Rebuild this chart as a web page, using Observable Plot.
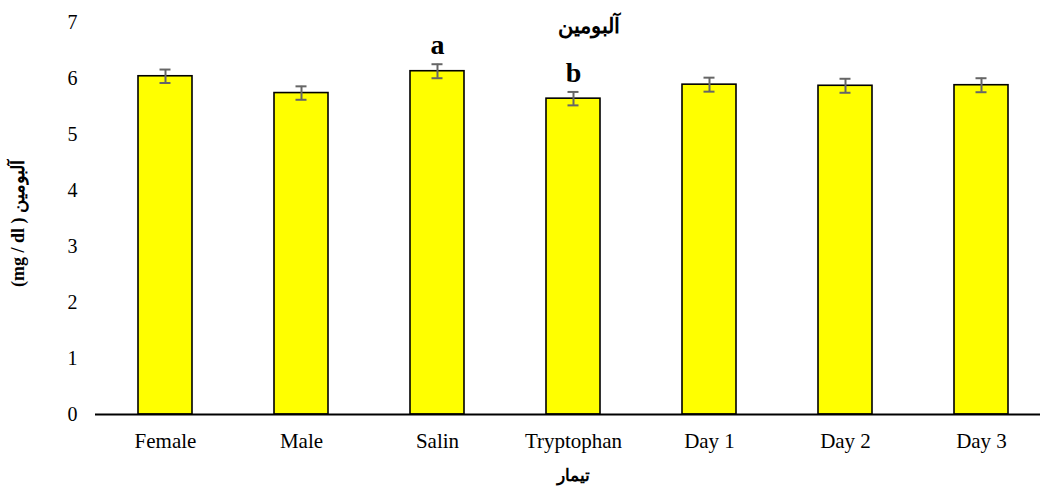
<!DOCTYPE html>
<html>
<head>
<meta charset="utf-8">
<script src="https://cdn.jsdelivr.net/npm/d3@7"></script>
<script src="https://cdn.jsdelivr.net/npm/@observablehq/plot@0.6"></script>
<style>
  html, body { margin: 0; padding: 0; background: #fff; overflow: hidden; }
  #chart { width: 1040px; height: 487px; overflow: hidden; }
  #chart svg { max-width: none !important; width: 1052px !important; height: 487px !important; }
  #chart svg text { font-family: 'Liberation Serif', 'Times New Roman', 'DejaVu Serif', serif; }
</style>
</head>
<body>
<div id="chart"></div>
<script>
const categories = ["Female", "Male", "Salin", "Tryptophan", "Day 1", "Day 2", "Day 3"];
const values = [6.04, 5.74, 6.13, 5.64, 5.89, 5.87, 5.88];
const errors = [0.12, 0.12, 0.125, 0.12, 0.125, 0.125, 0.125];
const letters = ["", "", "a", "b", "", "", ""];
const yTicks = [0, 1, 2, 3, 4, 5, 6, 7];
const title = "آلبومین";
const yLabel = "(mg / dl ) آلبومین";
const xLabel = "تیمار";

const data = categories.map((c, i) => ({cat: c, value: values[i], err: errors[i], letter: letters[i]}));
const serif = "'Liberation Serif', 'Times New Roman', 'DejaVu Serif', serif";

const chart = Plot.plot({
  width: 1052,
  height: 487,
  marginTop: 22,
  marginBottom: 73,
  marginLeft: 95,
  marginRight: 1,
  style: {fontFamily: serif, fontSize: "20px", background: "#fff", color: "#000", maxWidth: "none"},
  x: {domain: categories, paddingInner: 0.6, paddingOuter: 0.3, label: null},
  y: {domain: [0, 7], label: null},
  marks: [
    Plot.axisY({ticks: yTicks, tickSize: 0, tickPadding: 18, fontSize: 20, tickFormat: d => String(d), label: null}),
    Plot.axisX({tickSize: 0, tickPadding: 19, fontSize: 21, label: null}),
    Plot.barY(data, {x: "cat", y: "value", fill: "#ffff00", stroke: "#000", strokeWidth: 1.6}),
    Plot.ruleX(data, {x: "cat", y1: d => d.value - d.err, y2: d => d.value + d.err, stroke: "#666", strokeWidth: 2}),
    Plot.tickY(data, {x: "cat", y: d => d.value + d.err, stroke: "#666", strokeWidth: 2, insetLeft: 21.5, insetRight: 21.5}),
    Plot.tickY(data, {x: "cat", y: d => d.value - d.err, stroke: "#666", strokeWidth: 2, insetLeft: 21.5, insetRight: 21.5}),
    Plot.ruleY([0], {stroke: "#000", strokeWidth: 2}),
    Plot.text(data.filter(d => d.letter), {x: "cat", y: d => d.value + d.err, text: "letter", dy: -10, lineAnchor: "bottom", fontSize: 28, fontWeight: "bold", fill: "#000"}),
    Plot.text([title], {frameAnchor: "top", dx: 15, dy: -4, fontSize: 21, fontWeight: "bold", fill: "#000"}),
    Plot.text([xLabel], {frameAnchor: "bottom", dy: 66, fontSize: 17, fontWeight: "bold", fill: "#000"}),
    Plot.text([yLabel], {frameAnchor: "left", dx: -77, dy: 5, rotate: -90, textAnchor: "middle", fontSize: 18, fontWeight: "bold", fill: "#000"})
  ]
});
document.getElementById("chart").append(chart);
</script>
</body>
</html>
